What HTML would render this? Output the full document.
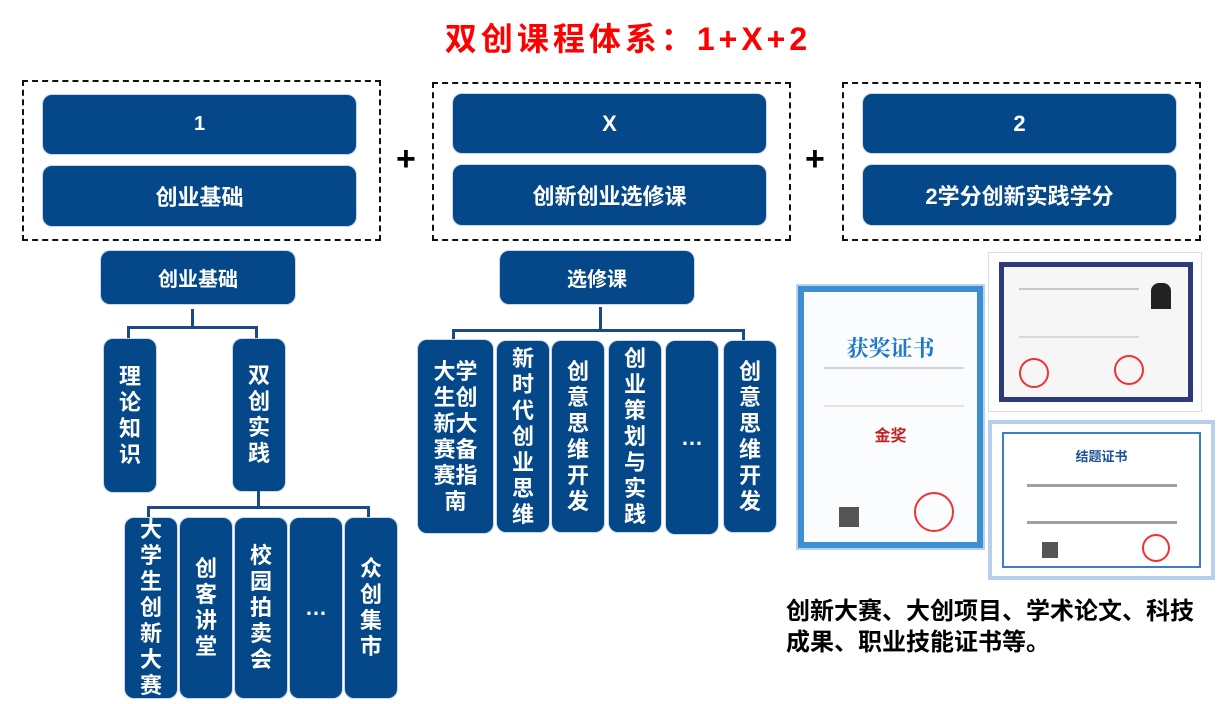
<!DOCTYPE html>
<html><head><meta charset="utf-8"><style>
*{margin:0;padding:0;box-sizing:border-box}
body{width:1226px;height:704px;background:#fff;position:relative;overflow:hidden;font-family:"Liberation Sans","Noto Sans CJK SC",sans-serif}
.a{position:absolute}
.b{position:absolute;background:#044889;color:#fff;border-radius:9px;display:flex;align-items:center;justify-content:center;font-weight:bold;text-align:center;box-shadow:0 0 0 1px #c9d6e6}
.d{position:absolute;border:2px dashed #111}
.v{font-size:22px;line-height:26px;writing-mode:horizontal-tb;width:100%}
.l{position:absolute;background:#1b4a86}
.cert{position:absolute;background:#fbfcfe;border:6px solid #3d8fd3;outline:2px solid #b7d3ee}
</style></head><body>
<div class="a" style="left:0;width:1226px;top:14px;text-align:center;color:#f00;font-size:32px;font-weight:bold;letter-spacing:4px;padding-left:30px">双创课程体系：1+X+2</div>

<div class="d" style="left:22px;top:80px;width:359px;height:161px"></div>
<div class="d" style="left:432px;top:82px;width:359px;height:159px"></div>
<div class="d" style="left:842px;top:82px;width:359px;height:159px"></div>
<div class="b" style="left:43px;top:95px;width:313px;height:59px;font-size:20px">1</div>
<div class="b" style="left:43px;top:166px;width:313px;height:60px;font-size:22px">创业基础</div>
<div class="b" style="left:453px;top:94px;width:313px;height:59px;font-size:22px">X</div>
<div class="b" style="left:453px;top:165px;width:313px;height:60px;font-size:22px">创新创业选修课</div>
<div class="b" style="left:863px;top:94px;width:313px;height:59px;font-size:22px">2</div>
<div class="b" style="left:863px;top:165px;width:313px;height:60px;font-size:22px">2学分创新实践学分</div>
<div class="a" style="left:396px;top:140px;font-size:34px;font-weight:bold">+</div>
<div class="a" style="left:805px;top:140px;font-size:34px;font-weight:bold">+</div>

<!-- left tree -->
<div class="b" style="left:101px;top:251px;width:194px;height:53px;font-size:20px">创业基础</div>
<div class="l" style="left:191px;top:309px;width:3px;height:19px"></div>
<div class="l" style="left:127px;top:326px;width:131px;height:3px"></div>
<div class="l" style="left:127px;top:326px;width:3px;height:12px"></div>
<div class="l" style="left:255px;top:326px;width:3px;height:12px"></div>
<div class="b" style="left:104px;top:339px;width:52px;height:153px"><div class="v">理<br>论<br>知<br>识</div></div>
<div class="b" style="left:233px;top:339px;width:52px;height:152px"><div class="v">双<br>创<br>实<br>践</div></div>
<div class="l" style="left:257px;top:491px;width:3px;height:17px"></div>
<div class="l" style="left:147px;top:506px;width:223px;height:3px"></div>
<div class="l" style="left:147px;top:506px;width:3px;height:12px"></div>
<div class="l" style="left:367px;top:506px;width:3px;height:12px"></div>
<div class="b" style="left:125px;top:518px;width:52px;height:180px"><div class="v">大<br>学<br>生<br>创<br>新<br>大<br>赛</div></div>
<div class="b" style="left:180px;top:518px;width:52px;height:180px"><div class="v">创<br>客<br>讲<br>堂</div></div>
<div class="b" style="left:235px;top:518px;width:52px;height:180px"><div class="v">校<br>园<br>拍<br>卖<br>会</div></div>
<div class="b" style="left:290px;top:518px;width:52px;height:180px"><div class="v">…</div></div>
<div class="b" style="left:345px;top:518px;width:52px;height:180px"><div class="v">众<br>创<br>集<br>市</div></div>

<!-- middle tree -->
<div class="b" style="left:500px;top:251px;width:194px;height:53px;font-size:20px">选修课</div>
<div class="l" style="left:599px;top:307px;width:3px;height:24px"></div>
<div class="l" style="left:452px;top:329px;width:293px;height:3px"></div>
<div class="l" style="left:452px;top:329px;width:3px;height:11px"></div>
<div class="l" style="left:742px;top:329px;width:3px;height:11px"></div>
<div class="b" style="left:418px;top:340px;width:75px;height:193px"><div class="v">大学<br>生创<br>新大<br>赛备<br>赛指<br>南</div></div>
<div class="b" style="left:497px;top:341px;width:52px;height:191px"><div class="v">新<br>时<br>代<br>创<br>业<br>思<br>维</div></div>
<div class="b" style="left:552px;top:341px;width:52px;height:191px"><div class="v">创<br>意<br>思<br>维<br>开<br>发</div></div>
<div class="b" style="left:609px;top:341px;width:52px;height:191px"><div class="v">创<br>业<br>策<br>划<br>与<br>实<br>践</div></div>
<div class="b" style="left:666px;top:341px;width:52px;height:193px"><div class="v">…</div></div>
<div class="b" style="left:724px;top:341px;width:52px;height:191px"><div class="v">创<br>意<br>思<br>维<br>开<br>发</div></div>

<!-- certificates -->
<div class="cert" style="left:798px;top:286px;width:185px;height:262px">
<div class="a" style="left:0;width:100%;top:40px;text-align:center;color:#1f78c8;font-size:22px;font-weight:bold;font-family:'Noto Serif CJK SC',serif">获奖证书</div>
<div class="a" style="left:0;width:100%;top:130px;text-align:center;color:#c81e1e;font-size:16px;font-weight:bold">金奖</div>
<div class="a" style="left:20px;top:75px;width:140px;height:40px;border-top:2px solid #aaa;border-bottom:2px solid #ccc;opacity:.5"></div>
<div class="a" style="left:110px;top:200px;width:40px;height:40px;border:2px solid #e33;border-radius:50%"></div>
<div class="a" style="left:35px;top:215px;width:20px;height:20px;background:#555"></div>
</div>
<div class="a" style="left:988px;top:252px;width:214px;height:160px;background:#fff;border:1px solid #ddd">
<div class="a" style="left:10px;top:9px;width:194px;height:140px;border:5px solid #2d3a7a;background:#f6f6f6"></div>
<div class="a" style="left:162px;top:30px;width:20px;height:26px;background:#222;border-radius:8px 8px 0 0"></div>
<div class="a" style="left:30px;top:35px;width:120px;height:50px;border-top:2px solid #999;border-bottom:2px solid #bbb;opacity:.5"></div>
<div class="a" style="left:30px;top:105px;width:30px;height:30px;border:2px solid #e33;border-radius:50%"></div>
<div class="a" style="left:125px;top:102px;width:30px;height:30px;border:2px solid #e33;border-radius:50%"></div>
</div>
<div class="a" style="left:988px;top:420px;width:227px;height:160px;background:#fff;border:4px solid #b9cdec">
<div class="a" style="left:10px;top:8px;width:199px;height:136px;border:2px solid #3d7cc9"></div>
<div class="a" style="left:0;width:100%;top:22px;text-align:center;color:#1d4fa0;font-size:13px;font-weight:bold">结题证书</div>
<div class="a" style="left:35px;top:60px;width:150px;height:40px;border-top:3px solid #444;border-bottom:3px solid #444;opacity:.5"></div>
<div class="a" style="left:150px;top:110px;width:28px;height:28px;border:2px solid #e33;border-radius:50%"></div>
<div class="a" style="left:50px;top:118px;width:16px;height:16px;background:#555"></div>
</div>

<div class="a" style="left:786px;top:596px;font-size:24px;font-weight:bold;line-height:31px;color:#000;white-space:nowrap">创新大赛、大创项目、学术论文、科技<br>成果、职业技能证书等。</div>
</body></html>
